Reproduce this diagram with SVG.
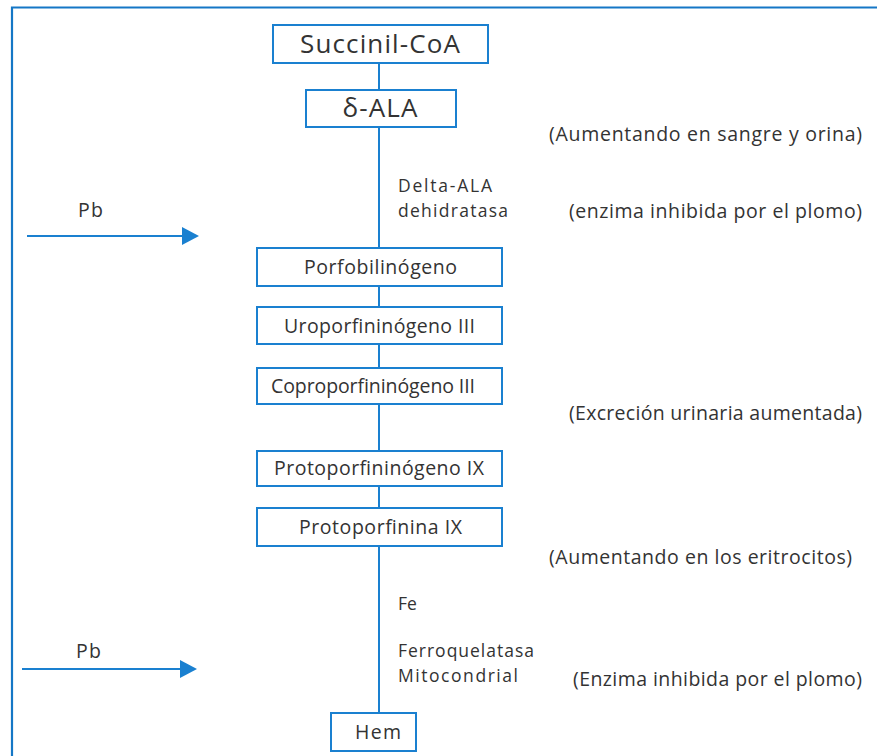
<svg xmlns="http://www.w3.org/2000/svg" width="877" height="756" viewBox="0 0 877 756">
<defs>
<style>
.frame{fill:none;stroke:#1577c6;stroke-width:2.2}
.box{fill:#fff;stroke:#1a80d0;stroke-width:2}
.ln{stroke:#1a80d0;stroke-width:2;fill:none}
.t{font-family:"Open Sans","Noto Sans","Liberation Sans",sans-serif;fill:#333;font-size:19.5px}
.s{font-size:17.5px}
.bt{font-family:"Open Sans","Noto Sans","Liberation Sans",sans-serif;fill:#333;font-size:19.5px;text-anchor:middle}
.big{font-size:26px}
</style>
</defs>
<rect width="877" height="756" fill="#fff"/>
<path class="frame" d="M12,756 V7.5 H877"/>
<g id="connectors">
<line class="ln" x1="379" y1="63" x2="379" y2="90"/>
<line class="ln" x1="379" y1="127" x2="379" y2="248"/>
<line class="ln" x1="379" y1="286" x2="379" y2="307"/>
<line class="ln" x1="379" y1="344" x2="379" y2="368"/>
<line class="ln" x1="379" y1="404" x2="379" y2="451"/>
<line class="ln" x1="379" y1="486" x2="379" y2="508"/>
<line class="ln" x1="379" y1="546" x2="379" y2="713"/>
<g id="pb1">
<line class="ln" x1="27" y1="236" x2="184" y2="236"/>
<polygon points="182,227 199,236 182,245" fill="#1a80d0"/>
</g>
<g id="pb2">
<line class="ln" x1="22" y1="669" x2="182" y2="669"/>
<polygon points="180,660 197,669 180,678" fill="#1a80d0"/>
</g>
</g>
<g id="succinil"><rect class="box" x="273" y="25" width="215" height="38"/><text class="bt big" x="380" y="53" textLength="160">Succinil-CoA</text></g>
<g id="ala"><rect class="box" x="306" y="90" width="150" height="37"/><text class="bt big" x="380" y="117" textLength="75">δ-ALA</text></g>
<g id="porfobilinogeno"><rect class="box" x="257" y="248" width="245" height="38"/><text class="bt" x="380.5" y="274" textLength="153">Porfobilinógeno</text></g>
<g id="uroporfirinogeno"><rect class="box" x="257" y="307" width="245" height="37"/><text class="bt" x="379.5" y="333" textLength="191">Uroporfininógeno III</text></g>
<g id="coproporfirinogeno"><rect class="box" x="257" y="368" width="245" height="36"/><text class="bt" x="373" y="393" textLength="204">Coproporfininógeno III</text></g>
<g id="protoporfirinogeno"><rect class="box" x="257" y="451" width="245" height="35"/><text class="bt" x="379" y="475" textLength="210">Protoporfininógeno IX</text></g>
<g id="protoporfirina"><rect class="box" x="257" y="508" width="245" height="38"/><text class="bt" x="380.5" y="534" textLength="163">Protoporfinina IX</text></g>
<g id="hem"><rect class="box" x="331" y="713" width="85" height="38"/><text class="bt" x="378" y="739" textLength="46">Hem</text></g>
<g id="labels">
<text class="t" x="78" y="217" textLength="25">Pb</text>
<text class="t" x="76" y="658" textLength="25">Pb</text>
<text class="t s" x="398" y="192" textLength="94">Delta-ALA</text>
<text class="t s" x="398" y="217" textLength="110">dehidratasa</text>
<text class="t s" x="398" y="610">Fe</text>
<text class="t s" x="398" y="657" textLength="136">Ferroquelatasa</text>
<text class="t s" x="398" y="682" textLength="120">Mitocondrial</text>
<text class="t" x="549" y="141" textLength="313">(Aumentando en sangre y orina)</text>
<text class="t" x="569" y="218" textLength="293">(enzima inhibida por el plomo)</text>
<text class="t" x="569" y="420" textLength="293">(Excreción urinaria aumentada)</text>
<text class="t" x="549" y="564" textLength="303">(Aumentando en los eritrocitos)</text>
<text class="t" x="573" y="686" textLength="289">(Enzima inhibida por el plomo)</text>
</g>
</svg>
